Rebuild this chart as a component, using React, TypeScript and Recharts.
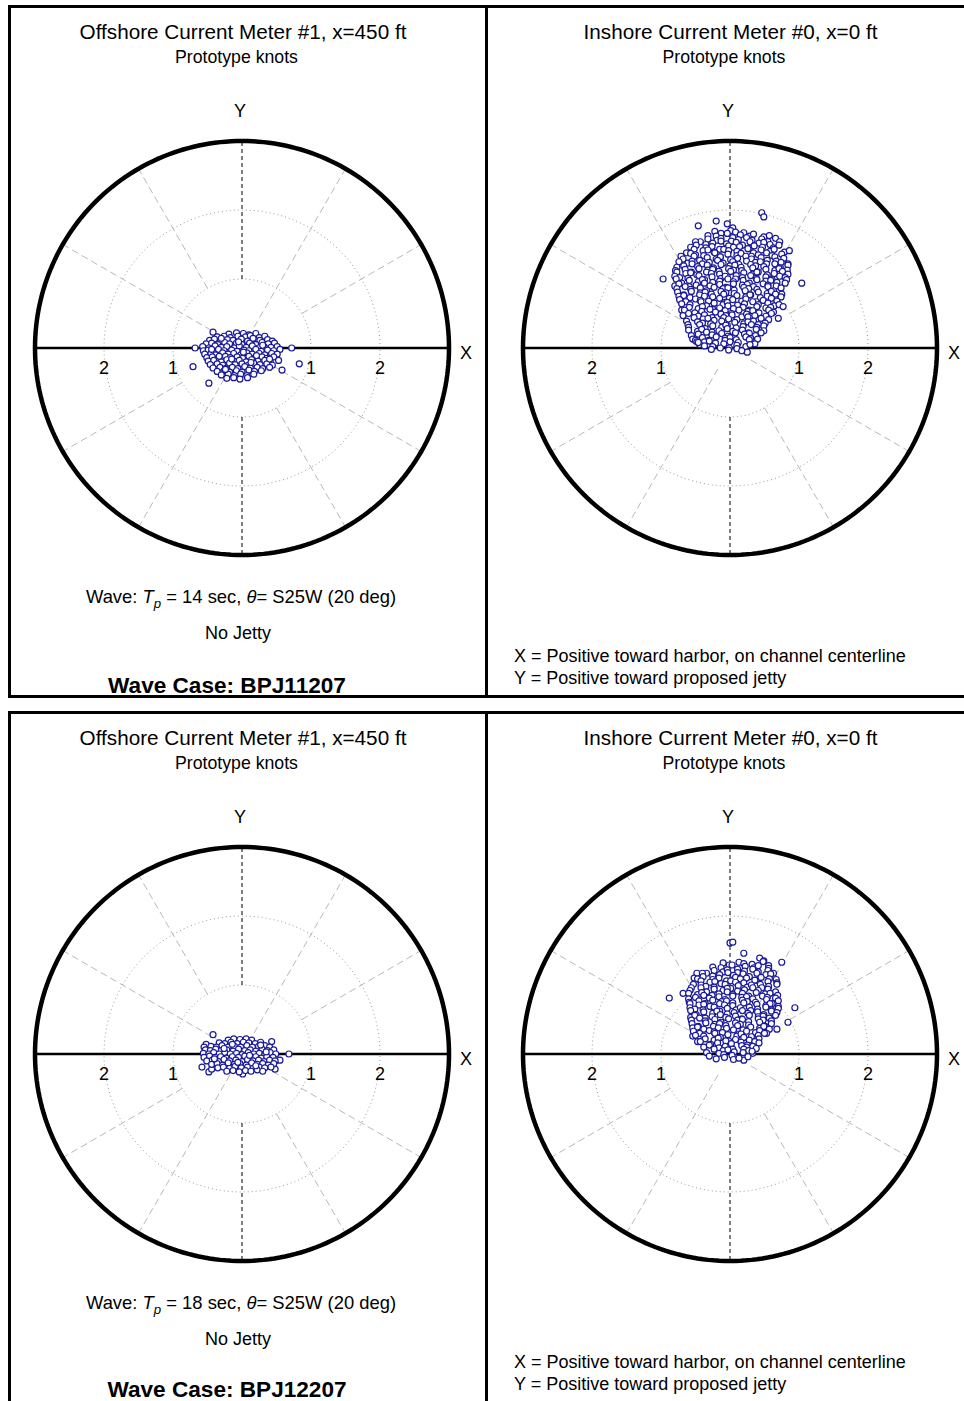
import React from 'react';
import { ScatterChart, Scatter, XAxis, YAxis } from 'recharts';

type Pt = [number, number];

// ---- DATA (knots; x = toward harbor, y = toward proposed jetty) ----
const offshore14: Pt[] = [
  [-0.42,0.23],[-0.19,0.2],[-0.08,0.22],[0.02,0.21],[0.1,0.19],[0.2,0.21],
  [-0.36,0.16],[-0.26,0.17],[-0.17,0.15],[-0.06,0.17],[0.05,0.16],[0.12,0.18],[0.25,0.15],[0.33,0.17],
  [-0.47,0.11],[-0.4,0.13],[-0.31,0.1],[-0.21,0.12],[-0.13,0.11],[-0.01,0.13],[0.08,0.1],[0.18,0.12],[0.26,0.11],[0.37,0.12],[0.44,0.1],
  [-0.52,0.06],[-0.44,0.07],[-0.35,0.05],[-0.25,0.08],[-0.18,0.06],[-0.08,0.07],[0.0,0.05],[0.11,0.07],[0.2,0.05],[0.29,0.08],[0.38,0.06],[0.47,0.07],
  [-0.68,0.0],[-0.57,0.02],[-0.48,0.0],[-0.39,0.03],[-0.3,0.01],[-0.22,0.02],[-0.11,0.0],[-0.04,0.03],[0.06,0.01],[0.15,0.03],[0.24,0.0],[0.32,0.02],[0.42,0.01],[0.51,0.02],[0.72,0.0],
  [-0.56,-0.04],[-0.49,-0.03],[-0.41,-0.05],[-0.34,-0.02],[-0.26,-0.04],[-0.15,-0.03],[-0.07,-0.05],[0.03,-0.03],[0.1,-0.04],[0.2,-0.02],[0.28,-0.05],[0.37,-0.03],[0.46,-0.04],[0.55,-0.02],
  [-0.54,-0.09],[-0.45,-0.08],[-0.38,-0.1],[-0.28,-0.07],[-0.2,-0.09],[-0.12,-0.08],[-0.02,-0.1],[0.07,-0.07],[0.15,-0.09],[0.25,-0.08],[0.33,-0.1],[0.43,-0.08],[0.51,-0.09],
  [-0.51,-0.14],[-0.43,-0.13],[-0.35,-0.15],[-0.24,-0.12],[-0.17,-0.14],[-0.07,-0.13],[0.01,-0.15],[0.1,-0.12],[0.19,-0.14],[0.29,-0.13],[0.36,-0.15],[0.46,-0.13],
  [-0.49,-0.19],[-0.41,-0.18],[-0.3,-0.2],[-0.22,-0.17],[-0.12,-0.19],[-0.04,-0.18],[0.06,-0.2],[0.14,-0.17],[0.23,-0.19],[0.33,-0.18],[0.41,-0.2],[0.53,-0.18],
  [-0.71,-0.27],[-0.46,-0.24],[-0.36,-0.23],[-0.28,-0.25],[-0.18,-0.22],[-0.1,-0.24],[0.0,-0.23],[0.09,-0.25],[0.17,-0.22],[0.26,-0.24],[0.36,-0.23],[0.44,-0.25],[0.83,-0.23],
  [-0.42,-0.29],[-0.32,-0.28],[-0.24,-0.3],[-0.14,-0.28],[-0.06,-0.3],[0.04,-0.27],[0.12,-0.29],[0.22,-0.28],[0.3,-0.3],[0.4,-0.28],
  [-0.36,-0.34],[-0.26,-0.33],[-0.18,-0.35],[-0.08,-0.33],[0.0,-0.35],[0.1,-0.32],[0.18,-0.34],[0.28,-0.33],[0.58,-0.32],
  [-0.3,-0.39],[-0.2,-0.38],[-0.11,-0.4],[-0.02,-0.38],[0.07,-0.4],[0.17,-0.38],
  [-0.22,-0.44],[-0.12,-0.43],[-0.03,-0.45],[0.08,-0.43],
  [-0.48,-0.51],
  [-0.3,0.14],[0.02,-0.06],[-0.15,-0.16],[0.21,-0.11],[-0.33,-0.12],[0.3,0.04],[-0.05,0.09],[0.13,-0.21],[-0.24,-0.31],[0.4,-0.16],[-0.44,-0.02],[0.16,0.14]
];

const inshore14: Pt[] = [
  [0.46,1.96],[0.49,1.9],[-0.46,1.77],[-0.2,1.84],[-0.04,1.8],[0.04,1.74],
  [-0.22,1.69],[-0.13,1.66],[0.01,1.7],[0.08,1.68],[0.2,1.67],
  [-0.32,1.63],[-0.2,1.62],[-0.04,1.66],[0.04,1.6],[0.15,1.64],[0.28,1.62],[0.34,1.65],[0.49,1.61],[0.57,1.63],
  [-0.43,1.54],[-0.32,1.58],[-0.19,1.56],[-0.13,1.59],[0.02,1.55],[0.12,1.57],[0.24,1.6],[0.32,1.56],[0.46,1.58],[0.55,1.54],[0.66,1.59],
  [-0.5,1.54],[-0.35,1.5],[-0.25,1.52],[-0.13,1.55],[-0.05,1.51],[0.09,1.53],[0.18,1.49],[0.29,1.54],[0.42,1.52],[0.49,1.53],[0.58,1.5],[0.72,1.54],
  [-0.57,1.46],[-0.49,1.49],[-0.35,1.45],[-0.26,1.47],[-0.15,1.43],[-0.02,1.48],[0.05,1.46],[0.14,1.47],[0.28,1.44],[0.35,1.48],[0.47,1.46],[0.63,1.45],[0.71,1.49],
  [-0.63,1.38],[-0.52,1.43],[-0.39,1.41],[-0.32,1.42],[-0.23,1.39],[-0.09,1.43],[-0.02,1.41],[0.1,1.4],[0.26,1.44],[0.34,1.38],[0.45,1.42],[0.58,1.4],[0.64,1.43],[0.79,1.39],[0.86,1.41],
  [-0.71,1.33],[-0.57,1.37],[-0.5,1.35],[-0.38,1.34],[-0.22,1.38],[-0.14,1.32],[-0.03,1.36],[0.1,1.34],[0.16,1.37],[0.31,1.33],[0.41,1.35],[0.53,1.38],[0.61,1.34],[0.75,1.36],
  [-0.68,1.29],[-0.52,1.33],[-0.44,1.27],[-0.33,1.31],[-0.2,1.29],[-0.14,1.32],[0.01,1.28],[0.11,1.3],[0.23,1.33],[0.31,1.29],[0.45,1.31],[0.54,1.27],[0.65,1.32],[0.78,1.3],
  [-0.74,1.25],[-0.61,1.23],[-0.55,1.26],[-0.4,1.22],[-0.3,1.24],[-0.18,1.27],[-0.1,1.23],[0.04,1.25],[0.13,1.21],[0.24,1.26],[0.37,1.24],[0.44,1.25],[0.53,1.22],[0.67,1.26],[0.74,1.24],[0.84,1.22],
  [-0.77,1.17],[-0.67,1.19],[-0.55,1.22],[-0.47,1.18],[-0.33,1.2],[-0.24,1.16],[-0.13,1.21],[0.0,1.19],[0.07,1.2],[0.16,1.17],[0.3,1.21],[0.37,1.19],[0.49,1.18],[0.65,1.22],[0.73,1.16],[0.84,1.2],
  [-0.79,1.12],[-0.65,1.14],[-0.56,1.1],[-0.45,1.15],[-0.32,1.13],[-0.25,1.14],[-0.16,1.11],[-0.02,1.15],[0.05,1.13],[0.17,1.12],[0.33,1.16],[0.41,1.1],[0.52,1.14],[0.65,1.12],[0.71,1.15],[0.83,1.13],
  [-0.77,1.1],[-0.64,1.08],[-0.57,1.09],[-0.48,1.06],[-0.34,1.1],[-0.27,1.08],[-0.15,1.07],[0.01,1.11],[0.09,1.05],[0.2,1.09],[0.33,1.07],[0.39,1.1],[0.54,1.06],[0.64,1.08],[0.76,1.11],[0.84,1.07],
  [-0.97,1.0],[-0.8,1.04],[-0.73,1.02],[-0.61,1.01],[-0.45,1.05],[-0.37,0.99],[-0.26,1.03],[-0.13,1.01],[-0.07,1.04],[0.08,1.0],[0.18,1.02],[0.3,1.05],[0.38,1.01],[0.52,1.03],[0.61,0.99],[0.72,1.04],[0.8,1.02],
  [-0.78,1.0],[-0.7,0.94],[-0.59,0.98],[-0.46,0.96],[-0.4,0.99],[-0.25,0.95],[-0.15,0.97],[-0.03,1.0],[0.05,0.96],[0.19,0.98],[0.28,0.94],[0.39,0.99],[0.52,0.97],[0.59,0.98],[0.68,0.95],[0.82,0.99],[1.04,0.94],
  [-0.8,0.9],[-0.74,0.93],[-0.59,0.89],[-0.49,0.91],[-0.37,0.94],[-0.29,0.9],[-0.15,0.92],[-0.06,0.88],[0.05,0.93],[0.18,0.91],[0.25,0.92],[0.34,0.89],[0.48,0.93],[0.55,0.91],[0.67,0.9],[0.8,0.94],
  [-0.77,0.86],[-0.65,0.89],[-0.57,0.85],[-0.43,0.87],[-0.34,0.83],[-0.23,0.88],[-0.1,0.86],[-0.03,0.87],[0.06,0.84],[0.2,0.88],[0.27,0.86],[0.39,0.85],[0.55,0.89],[0.63,0.83],[0.74,0.87],
  [-0.76,0.81],[-0.67,0.77],[-0.56,0.82],[-0.43,0.8],[-0.36,0.81],[-0.27,0.78],[-0.13,0.82],[-0.06,0.8],[0.06,0.79],[0.22,0.83],[0.3,0.77],[0.41,0.81],[0.54,0.79],[0.6,0.82],[0.75,0.78],
  [-0.74,0.75],[-0.67,0.76],[-0.58,0.73],[-0.44,0.77],[-0.37,0.75],[-0.25,0.74],[-0.09,0.78],[-0.01,0.72],[0.1,0.76],[0.23,0.74],[0.29,0.77],[0.44,0.73],[0.54,0.75],[0.66,0.78],[0.74,0.74],
  [-0.73,0.7],[-0.64,0.67],[-0.5,0.71],[-0.43,0.69],[-0.31,0.68],[-0.15,0.72],[-0.07,0.66],[0.04,0.7],[0.17,0.68],[0.23,0.71],[0.38,0.67],[0.48,0.69],[0.6,0.72],[0.68,0.68],
  [-0.7,0.64],[-0.58,0.63],[-0.42,0.67],[-0.34,0.61],[-0.23,0.65],[-0.1,0.63],[-0.04,0.66],[0.11,0.62],[0.21,0.64],[0.33,0.67],[0.41,0.63],[0.55,0.65],[0.64,0.61],[0.71,0.63],
  [-0.7,0.55],[-0.59,0.59],[-0.46,0.57],[-0.4,0.6],[-0.25,0.56],[-0.15,0.58],[-0.03,0.61],[0.05,0.57],[0.19,0.59],[0.28,0.55],[0.39,0.6],[0.52,0.58],[0.59,0.59],[0.77,0.6],
  [-0.66,0.55],[-0.51,0.51],[-0.41,0.53],[-0.29,0.56],[-0.21,0.52],[-0.07,0.54],[0.02,0.5],[0.13,0.55],[0.26,0.53],[0.33,0.54],[0.42,0.51],[0.56,0.55],[0.63,0.52],
  [-0.68,0.47],[-0.6,0.5],[-0.46,0.46],[-0.37,0.48],[-0.26,0.44],[-0.13,0.49],[-0.06,0.47],[0.03,0.48],[0.17,0.45],[0.24,0.49],[0.36,0.47],[0.52,0.46],[0.6,0.5],[0.7,0.43],
  [-0.63,0.39],[-0.52,0.44],[-0.39,0.42],[-0.32,0.43],[-0.23,0.4],[-0.09,0.44],[-0.02,0.42],[0.1,0.41],[0.26,0.45],[0.34,0.39],[0.45,0.43],[0.56,0.41],
  [-0.61,0.34],[-0.47,0.38],[-0.4,0.36],[-0.28,0.35],[-0.12,0.39],[-0.04,0.33],[0.07,0.37],[0.2,0.35],[0.26,0.38],[0.41,0.34],[0.51,0.36],
  [-0.6,0.3],[-0.44,0.34],[-0.36,0.28],[-0.25,0.32],[-0.12,0.3],[-0.06,0.33],[0.09,0.29],[0.19,0.31],[0.31,0.34],[0.39,0.3],[0.49,0.32],
  [-0.6,0.26],[-0.47,0.24],[-0.41,0.27],[-0.26,0.23],[-0.16,0.25],[-0.04,0.28],[0.04,0.24],[0.18,0.26],[0.27,0.22],[0.38,0.27],[0.49,0.25],
  [-0.56,0.18],[-0.46,0.2],[-0.34,0.23],[-0.26,0.19],[-0.12,0.21],[-0.03,0.17],[0.08,0.22],[0.21,0.2],[0.28,0.21],[0.37,0.18],[0.45,0.22],
  [-0.54,0.13],[-0.4,0.15],[-0.31,0.11],[-0.2,0.16],[-0.07,0.14],[0.0,0.15],[0.09,0.12],[0.23,0.16],[0.3,0.14],[0.4,0.13],
  [-0.5,0.11],[-0.37,0.09],[-0.3,0.1],[-0.21,0.07],[-0.07,0.11],[0.0,0.09],[0.12,0.08],[0.28,0.12],[0.36,0.06],
  [-0.44,0.05],[-0.37,0.03],[-0.25,0.02],[-0.09,0.06],[-0.01,0.0],[0.1,0.04],[0.23,0.02],[0.29,0.05],
  [-0.27,-0.02],[-0.14,0.0],[-0.02,-0.03],[0.1,-0.01],[0.25,-0.06],[0.17,-0.04],[-0.48,0.09],[-0.46,0.08]
];

const offshore18: Pt[] = [
  [-0.42,0.28],[-0.58,-0.19],[0.68,0.0],[0.43,0.18],[-0.48,-0.26],[-0.44,-0.22],[0.01,-0.29],[0.48,-0.22],[0.55,-0.09],
  [-0.2,0.2],[-0.12,0.22],[-0.03,0.21],[0.06,0.22],[0.14,0.2],
  [-0.52,0.14],[-0.33,0.16],[-0.25,0.15],[-0.16,0.17],[-0.07,0.15],[0.02,0.17],[0.1,0.16],[0.19,0.15],[0.27,0.17],
  [-0.55,0.1],[-0.45,0.11],[-0.37,0.1],[-0.29,0.12],[-0.2,0.1],[-0.11,0.11],[-0.02,0.1],[0.07,0.12],[0.15,0.1],[0.24,0.11],[0.33,0.12],[0.4,0.1],
  [-0.53,0.06],[-0.46,0.05],[-0.38,0.07],[-0.3,0.05],[-0.22,0.06],[-0.13,0.04],[-0.05,0.07],[0.04,0.05],[0.12,0.06],[0.2,0.04],[0.29,0.07],[0.37,0.05],[0.46,0.06],
  [-0.56,0.01],[-0.48,0.0],[-0.41,0.02],[-0.33,0.0],[-0.25,0.02],[-0.17,0.0],[-0.08,0.01],[0.0,-0.01],[0.09,0.02],[0.17,0.0],[0.25,0.01],[0.33,-0.01],[0.41,0.02],[0.49,0.0],
  [-0.55,-0.05],[-0.47,-0.03],[-0.39,-0.05],[-0.31,-0.04],[-0.23,-0.06],[-0.14,-0.04],[-0.05,-0.05],[0.04,-0.03],[0.12,-0.05],[0.2,-0.04],[0.28,-0.06],[0.36,-0.04],[0.45,-0.05],
  [-0.51,-0.1],[-0.43,-0.09],[-0.34,-0.11],[-0.26,-0.08],[-0.18,-0.1],[-0.09,-0.09],[0.0,-0.11],[0.08,-0.08],[0.16,-0.1],[0.24,-0.09],[0.32,-0.11],[0.4,-0.09],[0.48,-0.1],
  [-0.44,-0.15],[-0.36,-0.14],[-0.28,-0.16],[-0.2,-0.13],[-0.11,-0.15],[-0.03,-0.14],[0.06,-0.16],[0.14,-0.13],[0.22,-0.15],[0.3,-0.14],[0.38,-0.16],[0.46,-0.14],
  [-0.35,-0.2],[-0.27,-0.19],[-0.18,-0.21],[-0.1,-0.18],[-0.01,-0.2],[0.08,-0.19],[0.16,-0.21],[0.25,-0.19],[0.33,-0.2],[0.42,-0.19],
  [-0.22,-0.25],[-0.13,-0.24],[-0.04,-0.26],[0.05,-0.24],[0.13,-0.25],[0.22,-0.23],[0.3,-0.25],
  [-0.26,0.08],[0.11,-0.02],[-0.06,-0.12],[0.27,0.13],[-0.4,-0.07],[0.2,-0.17],[-0.14,0.14],[0.35,0.03]
];

const inshore18: Pt[] = [
  [0.0,1.61],[0.04,1.62],[0.2,1.46],[0.75,1.33],[0.43,1.39],[0.49,1.35],[-0.88,0.81],[-0.68,0.88],[-0.48,1.17],[0.94,0.67],[0.84,0.46],[-0.52,1.1],[-0.44,1.08],[-0.54,0.26],[0.68,0.36],[0.2,-0.09],[0.33,0.01],
  [-0.1,1.32],[-0.01,1.29],[0.13,1.33],[0.2,1.31],[0.32,1.3],[0.48,1.34],[0.56,1.28],
  [-0.25,1.26],[-0.13,1.25],[0.03,1.29],[0.11,1.23],[0.22,1.27],[0.35,1.25],[0.41,1.28],[0.56,1.24],
  [-0.34,1.17],[-0.23,1.21],[-0.1,1.19],[-0.04,1.22],[0.11,1.18],[0.21,1.2],[0.33,1.23],[0.41,1.19],[0.55,1.21],[0.63,1.17],
  [-0.4,1.17],[-0.25,1.13],[-0.15,1.15],[-0.03,1.18],[0.05,1.14],[0.19,1.16],[0.28,1.12],[0.39,1.17],[0.52,1.15],[0.59,1.16],
  [-0.47,1.09],[-0.39,1.12],[-0.25,1.08],[-0.16,1.1],[-0.05,1.06],[0.08,1.11],[0.15,1.09],[0.24,1.1],[0.38,1.07],[0.45,1.11],[0.57,1.09],[0.67,1.08],
  [-0.53,1.01],[-0.42,1.06],[-0.29,1.04],[-0.22,1.05],[-0.13,1.02],[0.01,1.06],[0.08,1.04],[0.2,1.03],[0.36,1.07],[0.44,1.01],[0.55,1.05],[0.68,1.03],
  [-0.56,0.96],[-0.42,1.0],[-0.35,0.98],[-0.23,0.97],[-0.07,1.01],[0.01,0.95],[0.12,0.99],[0.25,0.97],[0.31,1.0],[0.46,0.96],[0.56,0.98],[0.68,1.01],
  [-0.58,0.92],[-0.42,0.96],[-0.34,0.9],[-0.23,0.94],[-0.1,0.92],[-0.04,0.95],[0.11,0.91],[0.21,0.93],[0.33,0.96],[0.41,0.92],[0.55,0.94],[0.66,0.9],
  [-0.6,0.88],[-0.47,0.86],[-0.41,0.89],[-0.26,0.85],[-0.16,0.87],[-0.04,0.9],[0.04,0.86],[0.18,0.88],[0.27,0.84],[0.38,0.89],[0.51,0.87],[0.58,0.88],[0.69,0.85],
  [-0.6,0.8],[-0.5,0.82],[-0.38,0.85],[-0.3,0.81],[-0.16,0.83],[-0.07,0.79],[0.04,0.84],[0.17,0.82],[0.24,0.83],[0.33,0.8],[0.47,0.84],[0.54,0.82],[0.66,0.81],
  [-0.59,0.75],[-0.45,0.77],[-0.36,0.73],[-0.25,0.78],[-0.12,0.76],[-0.05,0.77],[0.04,0.74],[0.18,0.78],[0.25,0.76],[0.37,0.75],[0.53,0.79],[0.61,0.73],[0.7,0.77],
  [-0.58,0.73],[-0.45,0.71],[-0.38,0.72],[-0.29,0.69],[-0.15,0.73],[-0.08,0.71],[0.04,0.7],[0.2,0.74],[0.28,0.68],[0.39,0.72],[0.52,0.7],[0.58,0.73],[0.7,0.69],
  [-0.58,0.67],[-0.51,0.65],[-0.39,0.64],[-0.23,0.68],[-0.15,0.62],[-0.04,0.66],[0.09,0.64],[0.15,0.67],[0.3,0.63],[0.4,0.65],[0.52,0.68],[0.6,0.64],[0.7,0.66],
  [-0.57,0.63],[-0.49,0.57],[-0.38,0.61],[-0.25,0.59],[-0.19,0.62],[-0.04,0.58],[0.06,0.6],[0.18,0.63],[0.26,0.59],[0.4,0.61],[0.49,0.57],[0.6,0.62],[0.68,0.6],
  [-0.57,0.53],[-0.51,0.56],[-0.36,0.52],[-0.26,0.54],[-0.14,0.57],[-0.06,0.53],[0.08,0.55],[0.17,0.51],[0.28,0.56],[0.41,0.54],[0.48,0.55],[0.57,0.52],[0.66,0.56],
  [-0.56,0.49],[-0.44,0.52],[-0.36,0.48],[-0.22,0.5],[-0.13,0.46],[-0.02,0.51],[0.11,0.49],[0.18,0.5],[0.27,0.47],[0.41,0.51],[0.48,0.49],[0.6,0.48],
  [-0.55,0.44],[-0.46,0.4],[-0.35,0.45],[-0.22,0.43],[-0.15,0.44],[-0.06,0.41],[0.08,0.45],[0.15,0.43],[0.27,0.42],[0.43,0.46],[0.51,0.4],[0.6,0.44],
  [-0.54,0.38],[-0.47,0.39],[-0.38,0.36],[-0.24,0.4],[-0.17,0.38],[-0.05,0.37],[0.11,0.41],[0.19,0.35],[0.3,0.39],[0.43,0.37],[0.49,0.4],[0.57,0.36],
  [-0.53,0.33],[-0.44,0.3],[-0.3,0.34],[-0.23,0.32],[-0.11,0.31],[0.05,0.35],[0.13,0.29],[0.24,0.33],[0.37,0.31],[0.43,0.34],[0.53,0.3],
  [-0.5,0.27],[-0.38,0.26],[-0.22,0.3],[-0.14,0.24],[-0.03,0.28],[0.1,0.26],[0.16,0.29],[0.31,0.25],[0.41,0.27],[0.5,0.3],
  [-0.47,0.18],[-0.36,0.22],[-0.23,0.2],[-0.17,0.23],[-0.02,0.19],[0.08,0.21],[0.2,0.24],[0.28,0.2],[0.42,0.22],
  [-0.43,0.18],[-0.28,0.14],[-0.18,0.16],[-0.06,0.19],[0.02,0.15],[0.16,0.17],[0.25,0.13],[0.36,0.18],[0.42,0.16],
  [-0.38,0.1],[-0.3,0.13],[-0.16,0.09],[-0.07,0.11],[0.04,0.07],[0.17,0.12],[0.24,0.1],[0.33,0.11],[0.38,0.08],
  [-0.34,0.02],[-0.23,0.07],[-0.1,0.05],[-0.03,0.06],[0.06,0.03],[0.2,0.07],[0.27,0.05],[0.32,0.04],
  [-0.3,-0.03],[-0.16,0.01],[-0.09,-0.01],[0.03,-0.02],[0.19,0.02],[0.26,-0.04],
  [-0.2,-0.07],[-0.08,-0.05],[0.05,-0.08],[0.13,-0.06]
];

const gridRadii = [1, 2];
const outerRadius = 3;
const spokeAngles = [30, 60, 120, 150, 210, 240, 300, 330];
const tickValues = [-2, -1, 1, 2];
const tickLabels = ['2', '1', '1', '2'];
const axisNames = ['X', 'Y'];

const panelTitlesLeft = ['Offshore Current Meter #1, x=450 ft', 'Offshore Current Meter #1, x=450 ft'];
const panelTitlesRight = ['Inshore Current Meter #0, x=0 ft', 'Inshore Current Meter #0, x=0 ft'];
const unitsLabel = 'Prototype knots';
const wavePeriods = [14, 18];
const waveCases = ['BPJ11207', 'BPJ12207'];
const jettyLabel = 'No Jetty';
const noteX = 'X = Positive toward harbor, on channel centerline';
const noteY = 'Y = Positive toward proposed jetty';

// ---- STYLE / LAYOUT ----
const FONT = '"Liberation Sans", Arial, Helvetica, sans-serif';
const PX_PER_KNOT = 69;
const HALF = 262;
const PLOT = HALF * 2;
const DOMAIN: [number, number] = [-HALF / PX_PER_KNOT, HALF / PX_PER_KNOT];
const MARKER = '#1a1a99';

const toObjs = (pts: Pt[]) => pts.map(([x, y]) => ({ x, y }));

const circle = (r: number) => {
  const out: { x: number; y: number }[] = [];
  const n = 240;
  for (let i = 0; i <= n; i++) {
    const a = (i / n) * 2 * Math.PI;
    out.push({ x: r * Math.cos(a), y: r * Math.sin(a) });
  }
  return out;
};

const spoke = (deg: number, r1: number, r2: number) => {
  const a = (deg * Math.PI) / 180;
  return [
    { x: r1 * Math.cos(a), y: r1 * Math.sin(a) },
    { x: r2 * Math.cos(a), y: r2 * Math.sin(a) },
  ];
};

const NoShape = () => <g />;

const Ring = (p: any) => (
  <circle cx={p.cx} cy={p.cy} r={3} fill="#ffffff" stroke={MARKER} strokeWidth={1.2} />
);

const makeLabel = (dx: number, dy: number) => (p: any) => (
  <text
    x={p.cx + dx}
    y={p.cy + dy}
    textAnchor="middle"
    dominantBaseline="central"
    fontFamily={FONT}
    fontSize={18}
    fill="#000"
  >
    {p.payload?.label ?? p.label}
  </text>
);

const TickLabel = makeLabel(0, 20);
const XLabel = makeLabel(17, 5);
const YLabel = makeLabel(-2, -30);

const tickData = tickValues.map((v, i) => ({ x: v, y: 0, label: tickLabels[i] }));

function PolarPlot({ pts, cx, cy }: { pts: Pt[]; cx: number; cy: number }) {
  const data = toObjs(pts);
  return (
    <div style={{ position: 'absolute', left: cx - HALF, top: cy - HALF, width: PLOT, height: PLOT }}>
      <ScatterChart width={PLOT} height={PLOT} margin={{ top: 0, right: 0, bottom: 0, left: 0 }}>
        <XAxis type="number" dataKey="x" domain={DOMAIN} hide />
        <YAxis type="number" dataKey="y" domain={DOMAIN} hide />
        {gridRadii.map((r) => (
          <Scatter
            key={'g' + r}
            data={circle(r)}
            line={{ stroke: '#9a9a9a', strokeWidth: 1, strokeDasharray: '1 3' }}
            shape={NoShape}
            isAnimationActive={false}
          />
        ))}
        {spokeAngles.map((d) => (
          <Scatter
            key={'s' + d}
            data={spoke(d, d % 90 === 30 ? 1 : 0.35, outerRadius)}
            line={{ stroke: '#b8b8b8', strokeWidth: 1, strokeDasharray: '7 4' }}
            shape={NoShape}
            isAnimationActive={false}
          />
        ))}
        <Scatter
          data={spoke(90, 1, outerRadius)}
          line={{ stroke: '#000', strokeWidth: 1, strokeDasharray: '4 3' }}
          shape={NoShape}
          isAnimationActive={false}
        />
        <Scatter
          data={spoke(270, 1, outerRadius)}
          line={{ stroke: '#000', strokeWidth: 1, strokeDasharray: '4 3' }}
          shape={NoShape}
          isAnimationActive={false}
        />
        <Scatter
          data={[{ x: -outerRadius, y: 0 }, { x: outerRadius, y: 0 }]}
          line={{ stroke: '#000', strokeWidth: 2.5 }}
          shape={NoShape}
          isAnimationActive={false}
        />
        <Scatter
          data={circle(outerRadius)}
          line={{ stroke: '#000', strokeWidth: 4.5 }}
          shape={NoShape}
          isAnimationActive={false}
        />
        <Scatter data={tickData} shape={TickLabel} isAnimationActive={false} />
        <Scatter data={[{ x: outerRadius, y: 0, label: axisNames[0] }]} shape={XLabel} isAnimationActive={false} />
        <Scatter data={[{ x: 0, y: outerRadius, label: axisNames[1] }]} shape={YLabel} isAnimationActive={false} />
        <Scatter data={data} shape={Ring} isAnimationActive={false} />
      </ScatterChart>
    </div>
  );
}

function Txt({
  x, y, size = 18, bold = false, left = false, lh = 1, children,
}: { x: number; y: number; size?: number; bold?: boolean; left?: boolean; lh?: number; children: React.ReactNode }) {
  return (
    <div
      style={{
        position: 'absolute',
        left: x,
        top: y,
        transform: left ? 'translate(0,-50%)' : 'translate(-50%,-50%)',
        fontSize: size,
        fontWeight: bold ? 700 : 400,
        lineHeight: lh,
        whiteSpace: 'nowrap',
        fontFamily: FONT,
        color: '#000',
      }}
    >
      {children}
    </div>
  );
}

const panelData = [
  { off: offshore14, ins: inshore14 },
  { off: offshore18, ins: inshore18 },
];

export default function App() {
  return (
    <div style={{ position: 'absolute', left: 0, top: 0, width: 964, height: 1401, overflow: 'hidden', background: '#fff' }}>
      <div style={{ position: 'absolute', left: 8, top: 5, width: 980, height: 693, border: '3px solid #000', boxSizing: 'border-box' }} />
      <div style={{ position: 'absolute', left: 485, top: 5, width: 3, height: 693, background: '#000' }} />
      <div style={{ position: 'absolute', left: 8, top: 711, width: 980, height: 800, border: '3px solid #000', boxSizing: 'border-box' }} />
      <div style={{ position: 'absolute', left: 485, top: 711, width: 3, height: 700, background: '#000' }} />

      {panelData.map((p, i) => {
        const oy = i * 706;
        return (
          <React.Fragment key={i}>
            <PolarPlot pts={p.off} cx={242} cy={348 + oy} />
            <PolarPlot pts={p.ins} cx={730} cy={348 + oy} />

            <Txt x={243} y={32 + oy} size={20.7}>{panelTitlesLeft[i]}</Txt>
            <Txt x={236.5} y={58 + oy} size={17.7}>{unitsLabel}</Txt>
            <Txt x={730.5} y={32 + oy} size={20.7}>{panelTitlesRight[i]}</Txt>
            <Txt x={724} y={58 + oy} size={17.7}>{unitsLabel}</Txt>

            <Txt x={241} y={597 + oy} size={18.4}>
              Wave: <i>T</i>
              <i style={{ fontSize: '0.72em', position: 'relative', top: '0.38em' }}>p</i> = {wavePeriods[i]} sec, <i>θ</i>= S25W (20 deg)
            </Txt>
            <Txt x={238} y={633 + oy} size={18}>{jettyLabel}</Txt>
            <Txt x={227} y={(i === 0 ? 686 : 1390) } size={22.6} bold lh={0.8}>Wave Case: {waveCases[i]}</Txt>

            <Txt x={514} y={656 + oy} size={18} left>{noteX}</Txt>
            <Txt x={514} y={678 + oy} size={18} left>{noteY}</Txt>
          </React.Fragment>
        );
      })}
    </div>
  );
}
